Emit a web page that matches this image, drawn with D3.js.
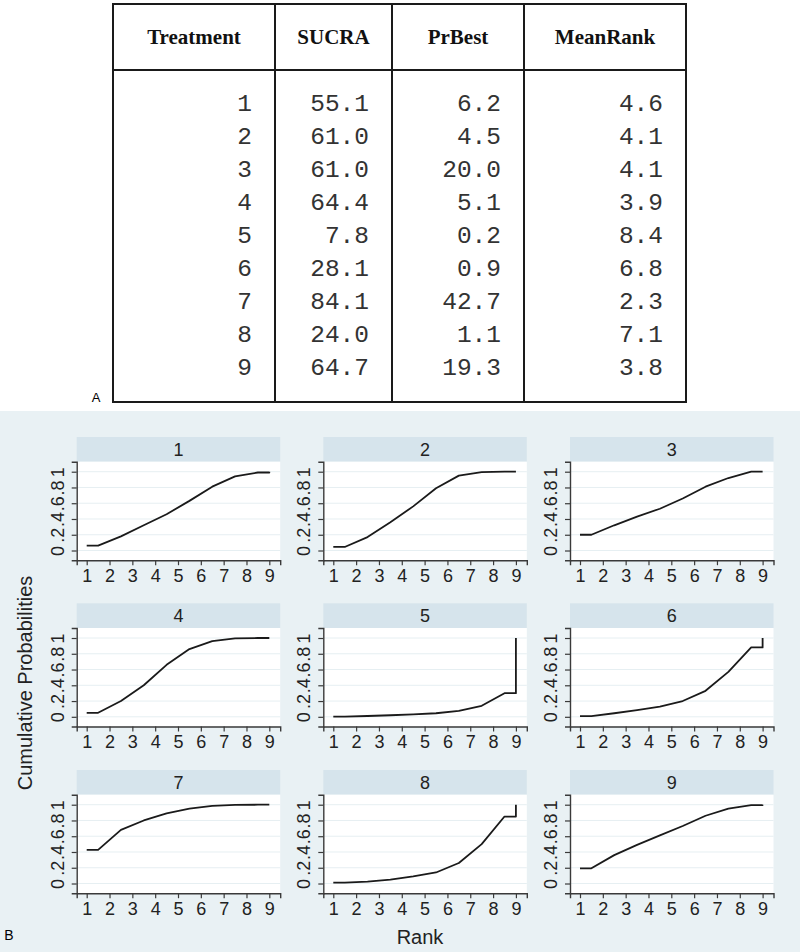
<!DOCTYPE html>
<html>
<head>
<meta charset="utf-8">
<script src="https://cdn.jsdelivr.net/npm/d3@7"></script>
<style>
  body { margin: 0; background: #fff; }
  svg { display: block; }
</style>
</head>
<body>
<svg id="chart"></svg>
<script>
// table values
const tableHeaders = ["Treatment", "SUCRA", "PrBest", "MeanRank"];
const treatments = [1, 2, 3, 4, 5, 6, 7, 8, 9];
const sucra = [55.1, 61.0, 61.0, 64.4, 7.8, 28.1, 84.1, 24.0, 64.7];
const prBest = [6.2, 4.5, 20.0, 5.1, 0.2, 0.9, 42.7, 1.1, 19.3];
const meanRank = [4.6, 4.1, 4.1, 3.9, 8.4, 6.8, 2.3, 7.1, 3.8];

// cumulative probability of being within rank 1..9, one list per treatment
const cumProb = [
    [0.062, 0.18, 0.32, 0.46, 0.63, 0.81, 0.94, 0.99, 1],
    [0.045, 0.17, 0.36, 0.56, 0.79, 0.95, 0.995, 1.0, 1],
    [0.200, 0.32, 0.43, 0.53, 0.66, 0.81, 0.92, 1.0, 1],
    [0.051, 0.20, 0.40, 0.66, 0.86, 0.96, 0.995, 1.0, 1],
    [0.002, 0.01, 0.02, 0.03, 0.045, 0.075, 0.14, 0.30, 1],
    [0.009, 0.045, 0.085, 0.13, 0.20, 0.33, 0.57, 0.88, 1],
    [0.427, 0.68, 0.80, 0.89, 0.95, 0.985, 0.997, 1.0, 1],
    [0.011, 0.025, 0.05, 0.09, 0.14, 0.26, 0.50, 0.85, 1],
    [0.193, 0.36, 0.49, 0.61, 0.73, 0.86, 0.95, 0.995, 1]
];
const rankTicks = [1, 2, 3, 4, 5, 6, 7, 8, 9];
const probTicks = [0, 0.2, 0.4, 0.6, 0.8, 1];

const width = 800, height = 952;
const svg = d3.select("#chart").attr("width", width).attr("height", height);

// ---------- part A: table ----------
const colEdges = [113, 275, 392, 524, 686];
const tableTop = 4, headerLine = 70, tableBottom = 402;
const rowY = d3.scalePoint().domain(treatments).range([102, 366]);

const table = svg.append("g");
table.append("rect")
    .attr("x", colEdges[0]).attr("y", tableTop)
    .attr("width", colEdges[4] - colEdges[0]).attr("height", tableBottom - tableTop)
    .attr("fill", "none").attr("stroke", "#1a1a1a").attr("stroke-width", 2);
table.append("line")
    .attr("x1", colEdges[0]).attr("x2", colEdges[4])
    .attr("y1", headerLine).attr("y2", headerLine)
    .attr("stroke", "#1a1a1a").attr("stroke-width", 2);
table.selectAll(".divider")
    .data(colEdges.slice(1, 4))
    .join("line")
    .attr("x1", d => d).attr("x2", d => d)
    .attr("y1", tableTop).attr("y2", tableBottom)
    .attr("stroke", "#1a1a1a").attr("stroke-width", 2);

table.selectAll(".head")
    .data(tableHeaders)
    .join("text")
    .attr("x", (d, i) => (colEdges[i] + colEdges[i + 1]) / 2)
    .attr("y", 37)
    .attr("dy", "0.35em")
    .attr("text-anchor", "middle")
    .style("font-family", "'Liberation Serif', 'Times New Roman', serif")
    .style("font-weight", "bold")
    .style("font-size", "21px")
    .attr("fill", "#111")
    .text(d => d);

const columns = [
    treatments.map(d => String(d)),
    sucra.map(d => d.toFixed(1)),
    prBest.map(d => d.toFixed(1)),
    meanRank.map(d => d.toFixed(1))
];
columns.forEach((vals, c) => {
    table.selectAll(".col" + c)
        .data(vals)
        .join("text")
        .attr("x", colEdges[c + 1] - 23)
        .attr("y", (d, i) => rowY(treatments[i]))
        .attr("dy", "0.35em")
        .attr("text-anchor", "end")
        .style("font-family", "'Liberation Mono', 'Courier New', monospace")
        .style("font-size", "24.5px")
        .attr("fill", "#333")
        .text(d => d);
});

svg.append("text")
    .attr("x", 96).attr("y", 397).attr("dy", "0.35em")
    .attr("text-anchor", "middle")
    .style("font-family", "'Liberation Sans', Arial, sans-serif")
    .style("font-size", "13px")
    .text("A");

// ---------- part B: small multiples ----------
const bgTop = 411;
svg.append("rect")
    .attr("x", 0).attr("y", bgTop)
    .attr("width", width).attr("height", height - bgTop)
    .attr("fill", "#e9f1f4");

const plotW = 203.5, stripH = 24.7, plotH = 98.5;
const colLeft = [76.7, 323.3, 570];
const rowTop = [437, 603.3, 770];

const x = d3.scaleLinear().domain([0.562, 9.477]).range([0, plotW]);
const y = d3.scaleLinear().domain([-0.123, 1.127]).range([plotH, 0]);

const line = d3.line()
    .x(d => x(d[0]))
    .y(d => y(d[1]));

// cumulative values drawn Stata-style: flat half steps at both ends
function stepPoints(c) {
    const pts = [[1, c[0]], [1.5, c[0]]];
    for (let k = 1; k < 8; k++) pts.push([k + 1.5, c[k]]);
    pts.push([9, c[7]], [9, c[8]]);
    return pts;
}

const fontSans = "'Liberation Sans', Arial, sans-serif";

treatments.forEach((t, i) => {
    const left = colLeft[i % 3];
    const top = rowTop[Math.floor(i / 3)];

    const panel = svg.append("g")
        .attr("transform", `translate(${left},${top})`);

    panel.append("rect")
        .attr("width", plotW).attr("height", stripH)
        .attr("fill", "#d6e4ec");
    panel.append("text")
        .attr("x", plotW / 2).attr("y", stripH / 2).attr("dy", "0.36em")
        .attr("text-anchor", "middle")
        .style("font-family", fontSans)
        .style("font-size", "18px")
        .attr("fill", "#222")
        .text(t);

    const plot = panel.append("g")
        .attr("transform", `translate(0,${stripH})`);

    plot.append("rect")
        .attr("width", plotW).attr("height", plotH)
        .attr("fill", "#fff");

    plot.selectAll(".grid")
        .data(probTicks)
        .join("line")
        .attr("x1", 0).attr("x2", plotW)
        .attr("y1", d => y(d)).attr("y2", d => y(d))
        .attr("stroke", "#e6eff2")
        .attr("stroke-width", 1);

    plot.append("path")
        .datum(stepPoints(cumProb[i]))
        .attr("fill", "none")
        .attr("stroke", "#1a1a1a")
        .attr("stroke-width", 1.8)
        .attr("stroke-linejoin", "round")
        .attr("d", line);

    const xAxis = plot.append("g")
        .attr("transform", `translate(0,${plotH})`)
        .call(d3.axisBottom(x).tickValues(rankTicks).tickSize(5).tickPadding(4).tickFormat(d3.format("d")));

    const yAxis = plot.append("g")
        .call(d3.axisLeft(y).tickValues(probTicks).tickSize(5)
            .tickFormat(d => d === 0 ? "0" : d === 1 ? "1" : String(d).replace("0.", ".")));

    [xAxis, yAxis].forEach(ax => {
        ax.select(".domain").attr("stroke", "#3a3a3a").attr("stroke-width", 1.4);
        ax.selectAll(".tick line").attr("stroke", "#3a3a3a").attr("stroke-width", 1.2);
        ax.selectAll("text")
            .style("font-family", fontSans)
            .style("font-size", "18px")
            .attr("fill", "#222");
    });

    yAxis.selectAll(".tick text")
        .attr("transform", "rotate(-90)")
        .attr("text-anchor", "middle")
        .attr("x", 0)
        .attr("y", -13)
        .attr("dy", 0);
});

svg.append("text")
    .attr("transform", "translate(25,683) rotate(-90)")
    .attr("text-anchor", "middle")
    .attr("dy", "0.35em")
    .style("font-family", fontSans)
    .style("font-size", "20px")
    .attr("fill", "#222")
    .text("Cumulative Probabilities");

svg.append("text")
    .attr("x", 420).attr("y", 937).attr("dy", "0.35em")
    .attr("text-anchor", "middle")
    .style("font-family", fontSans)
    .style("font-size", "20px")
    .attr("fill", "#222")
    .text("Rank");

svg.append("text")
    .attr("x", 9).attr("y", 935).attr("dy", "0.35em")
    .attr("text-anchor", "middle")
    .style("font-family", fontSans)
    .style("font-size", "14px")
    .text("B");
</script>
</body>
</html>
